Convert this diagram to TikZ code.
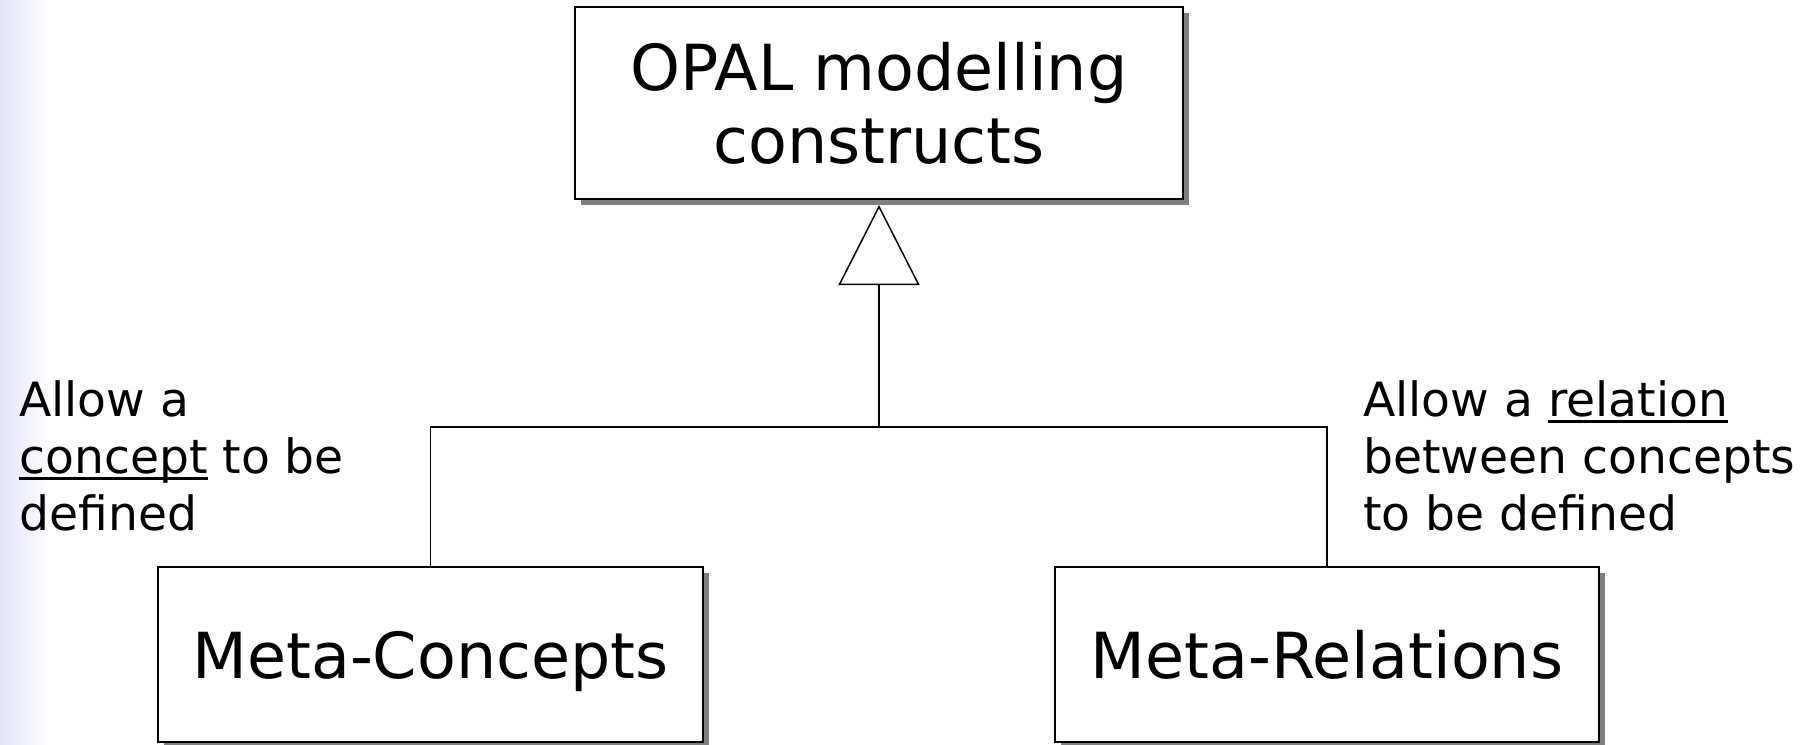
\documentclass[tikz,border=0pt]{standalone}
\usepackage{fontspec}
\setmainfont{DejaVu Sans}
\usetikzlibrary{arrows.meta,shadows}
\definecolor{lav}{RGB}{228,228,252}
\definecolor{shadowgray}{RGB}{128,128,128}
\newcommand\myul[1]{\setbox0\hbox{#1}\rlap{\rule[-0.13em]{\wd0}{0.055em}}\box0\relax}
\tikzset{
 classbox/.style={draw, line width=1pt, fill=white, inner sep=0pt, align=center,
   font=\fontsize{31.75}{36.5}\selectfont,
   drop shadow={shadow xshift=3pt, shadow yshift=-3pt, fill=shadowgray, opacity=1}},
 onelinebox/.style={classbox, text height=28pt, text depth=4.4pt},
 note/.style={anchor=north west, inner sep=0pt, align=left, font=\fontsize{23.6}{28.5}\selectfont},
 link/.style={line width=0.75pt},
}
\begin{document}
\begin{tikzpicture}[x=0.5pt,y=-0.5pt]
\fill[white] (0,0) rectangle (1814,744);
\shade[left color=lav, right color=white] (0,0) rectangle (50,744);
\useasboundingbox (0,0) rectangle (1814,744);

\node[classbox, minimum width=304pt, minimum height=96pt] (top) at (879,103) {\raisebox{-2.5pt}{OPAL modelling}\\\raisebox{-2.5pt}{constructs}};
\node[onelinebox, minimum width=272.5pt, minimum height=87.5pt] (mc) at (430.5,654.5) {Meta-Concepts};
\node[onelinebox, minimum width=272pt, minimum height=87.5pt] (mr) at (1327,654.5) {Meta-Relations};

\coordinate (join) at (879,427);
\draw[link] (mc.north) |- (join) -| (mr.north);
\draw[link, -{Triangle[open, length=40pt, width=40.5pt]}] (join) -- ([yshift=-2.5pt]top.south);

\node[note] (ln) at (19,380.5) {Allow a\\\myul{concept} to be\\defined};
\node[note] (rn) at (1363,380.5) {Allow a \myul{relation}\\between concepts\\to be defined};
\end{tikzpicture}
\end{document}
